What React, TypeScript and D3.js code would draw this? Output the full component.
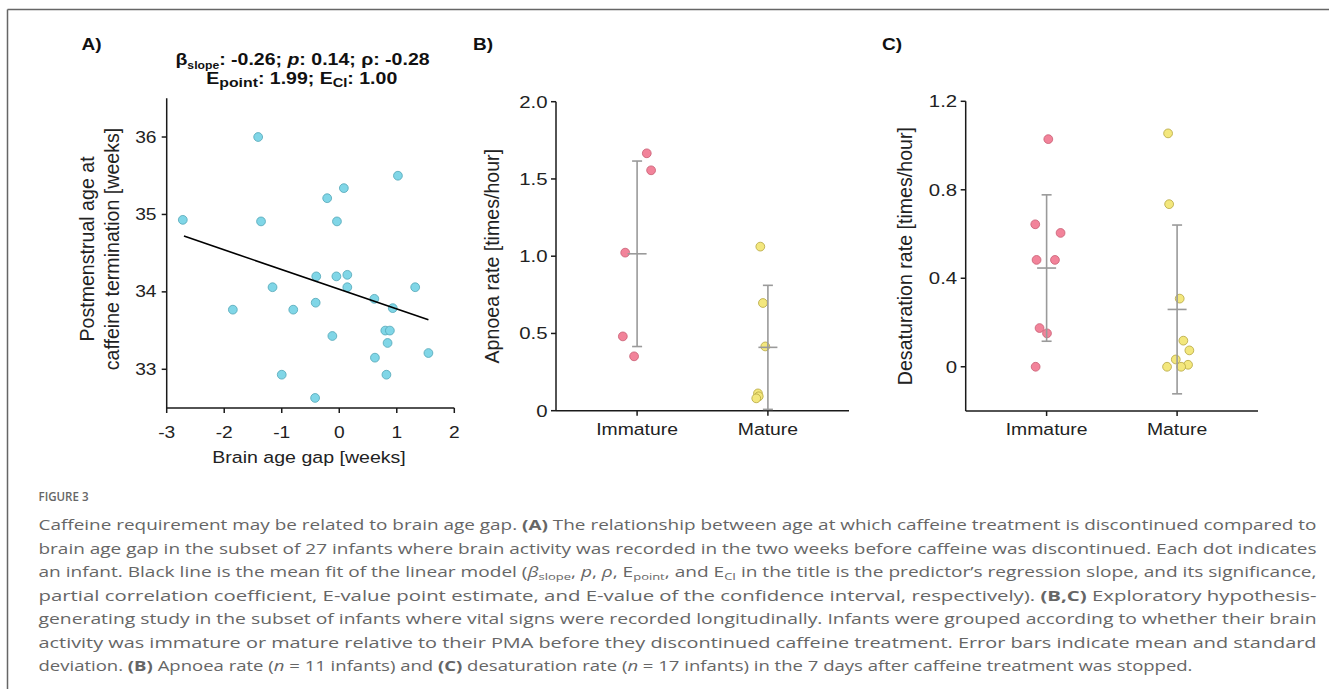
import React from 'react';
import * as d3 from 'd3';

// ---------- Panel A data ----------
const gapWeeks = [-1.41, 1.02, 0.08, -0.21, -2.72, -1.36, -0.04, -0.4, -0.05, 0.14, -1.16, 0.14, 1.32, 0.61, -0.41, -1.85, -0.8, 0.93, 0.8, 0.88, -0.12, 0.84, 1.55, 0.62, -1.0, 0.82, -0.42];
const pmaWeeks = [36.0, 35.5, 35.34, 35.21, 34.93, 34.91, 34.91, 34.2, 34.2, 34.22, 34.06, 34.06, 34.06, 33.91, 33.86, 33.77, 33.77, 33.79, 33.5, 33.5, 33.43, 33.34, 33.21, 33.15, 32.93, 32.93, 32.63];
const fitGap = [-2.7, 1.55];
const fitPma = [34.72, 33.64];
const xTicksA = [-3, -2, -1, 0, 1, 2];
const yTicksA = [33, 34, 35, 36];

// ---------- Panels B/C data ----------
const groups = ['Immature', 'Mature'];
const apnoeaImmature = [1.666, 1.556, 1.023, 0.481, 0.352];
const apnoeaImmatureJitter = [0.074, 0.107, -0.091, -0.109, -0.023];
const apnoeaMature = [1.062, 0.697, 0.416, 0.112, 0.093, 0.08];
const apnoeaMatureJitter = [-0.058, -0.038, -0.02, -0.076, -0.07, -0.089];
const yTicksB = [0, 0.5, 1, 1.5, 2];
const yTickLabelsB = ['0', '0.5', '1.0', '1.5', '2.0'];

const desatImmature = [1.029, 0.644, 0.605, 0.483, 0.483, 0.175, 0.151, 0.0];
const desatImmatureJitter = [0.013, -0.087, 0.107, -0.077, 0.064, -0.054, 0.003, -0.084];
const desatMature = [1.055, 0.735, 0.308, 0.118, 0.074, 0.033, 0.009, 0.0, 0.0];
const desatMatureJitter = [-0.069, -0.061, 0.02, 0.048, 0.094, -0.01, 0.084, -0.077, 0.031];
const yTicksC = [0, 0.4, 0.8, 1.2];
const yTickLabelsC = ['0', '0.4', '0.8', '1.2'];

// ---------- Caption ----------
type Seg = [string, string?];
const captionLines: Seg[][] = [
  [["Caffeine requirement may be related to brain age gap. "], ["(A)", "b"], [" The relationship between age at which caffeine treatment is discontinued compared to"]],
  [["brain age gap in the subset of 27 infants where brain activity was recorded in the two weeks before caffeine was discontinued. Each dot indicates"]],
  [["an infant. Black line is the mean fit of the linear model ("], ["β", "i"], ["slope", "s"], [", "], ["p", "i"], [", "], ["ρ", "i"], [", E"], ["point", "s"], [", and E"], ["CI", "s"], [" in the title is the predictor’s regression slope, and its significance,"]],
  [["partial correlation coefficient, E-value point estimate, and E-value of the confidence interval, respectively). "], ["(B,C)", "b"], [" Exploratory hypothesis-"]],
  [["generating study in the subset of infants where vital signs were recorded longitudinally. Infants were grouped according to whether their brain"]],
  [["activity was immature or mature relative to their PMA before they discontinued caffeine treatment. Error bars indicate mean and standard"]],
  [["deviation. "], ["(B)", "b"], [" Apnoea rate ("], ["n", "i"], [" = 11 infants) and "], ["(C)", "b"], [" desaturation rate ("], ["n", "i"], [" = 17 infants) in the 7 days after caffeine treatment was stopped."]],
];

const AX = '#1a1a1a';
const FONT = '"Liberation Sans", Arial, Helvetica, sans-serif';
const SX = 1.2;

function HText(props: { x: number; y: number; anchor?: string; size: number; sx?: number; bold?: boolean; fill?: string; children: React.ReactNode }) {
  const { x, y, anchor = 'start', size, sx = SX, bold, fill = '#222', children } = props;
  return (
    <text transform={`translate(${x},${y}) scale(${sx},1)`} textAnchor={anchor} fontSize={size}
      fontWeight={bold ? 700 : undefined} fill={fill}>{children}</text>
  );
}

function CaptionLine({ segs, y, width }: { segs: Seg[]; y: number; width: number }) {
  let shifted = false;
  const children = segs.map((s, i) => {
    const [t, st] = s;
    let dy = 0;
    if (st === 's' && !shifted) { dy = 3; shifted = true; }
    else if (st !== 's' && shifted) { dy = -3; shifted = false; }
    return (
      <tspan key={i} dy={dy || undefined}
        fontWeight={st === 'b' ? 700 : undefined}
        fontStyle={st === 'i' ? 'italic' : undefined}
        fontSize={st === 's' ? 9.5 : undefined}>{t}</tspan>
    );
  });
  return (
    <text x={38.5} y={y} textLength={width} lengthAdjust="spacingAndGlyphs" fontFamily='"Open Sans", sans-serif' fontSize={14} fill="#666">
      {children}
    </text>
  );
}

function PanelA() {
  const x = d3.scaleLinear().domain([-3, 2]).range([166.7, 454.3]);
  const y = d3.scaleLinear().domain([32.5, 36.5]).range([408, 98.3]);
  const line = d3.line<number>().x((d, i) => x(fitGap[i])).y((d) => y(d));
  return (
    <g fontFamily={FONT}>
      <HText x={81.5} y={50} size={17} sx={1.12} bold fill="#111">A)</HText>
      <text transform={`translate(302.5,65) scale(1.22,1)`} fontSize={16} fontWeight={700} textAnchor="middle" fill="#111">
        <tspan>β</tspan><tspan fontSize={10} dy={4}>slope</tspan><tspan dy={-4}>: -0.26; </tspan>
        <tspan fontStyle="italic">p</tspan><tspan>: 0.14; ρ: -0.28</tspan>
      </text>
      <text transform={`translate(301.7,84) scale(1.22,1)`} fontSize={16} fontWeight={700} textAnchor="middle" fill="#111">
        <tspan>E</tspan><tspan fontSize={13} dy={3}>point</tspan><tspan dy={-3}>: 1.99; E</tspan>
        <tspan fontSize={12} dy={3}>CI</tspan><tspan dy={-3}>: 1.00</tspan>
      </text>
      <line x1={x(-3)} x2={x(-3)} y1={y(36.5)} y2={y(32.5)} stroke={AX} strokeWidth={1.5} />
      <line x1={x(-3)} x2={x(2)} y1={y(32.5)} y2={y(32.5)} stroke={AX} strokeWidth={1.5} />
      {xTicksA.map((t) => (
        <g key={t}>
          <line x1={x(t)} x2={x(t)} y1={y(32.5)} y2={y(32.5) + 5} stroke={AX} strokeWidth={1.5} />
          <HText x={x(t)} y={437.5} size={16} anchor="middle">{String(t)}</HText>
        </g>
      ))}
      {yTicksA.map((t) => (
        <g key={t}>
          <line x1={x(-3) - 5} x2={x(-3)} y1={y(t)} y2={y(t)} stroke={AX} strokeWidth={1.5} />
          <HText x={156.5} y={y(t) + 5.5} size={16} anchor="end">{String(t)}</HText>
        </g>
      ))}
      <HText x={309} y={463} size={16.3} anchor="middle">Brain age gap [weeks]</HText>
      <text transform="translate(94.3,249) rotate(-90)" fontSize={19.6} textAnchor="middle" fill="#222">Postmenstrual age at</text>
      <text transform="translate(119.3,249) rotate(-90)" fontSize={19.6} textAnchor="middle" fill="#222">caffeine termination [weeks]</text>
      {gapWeeks.map((g, i) => (
        <circle key={i} cx={x(g)} cy={y(pmaWeeks[i])} r={4.4} fill="#80d6e7" stroke="#52a6b6" strokeWidth={0.8} />
      ))}
      <path d={line(fitPma) || ''} stroke="#000" strokeWidth={1.6} fill="none" />
    </g>
  );
}

function DotPanel(props: {
  label: string; labelX: number; x0: number; x1: number; yTop: number; yBot: number;
  domain: [number, number]; ticks: number[]; tickLabels: string[]; yLabel: string; yLabelX: number;
  imm: number[]; immJ: number[]; mat: number[]; matJ: number[];
}) {
  const { label, labelX, x0, x1, yTop, yBot, domain, ticks, tickLabels, yLabel, yLabelX, imm, immJ, mat, matJ } = props;
  const x = d3.scalePoint<string>().domain(groups).range([x0, x1]).padding(0.62);
  const y = d3.scaleLinear().domain(domain).range([yBot, yTop]);
  const step = x.step();
  const sets = [
    { g: groups[0], v: imm, j: immJ, fill: '#f2839a', stroke: '#c85d72' },
    { g: groups[1], v: mat, j: matJ, fill: '#f3e77d', stroke: '#b5a640' },
  ];
  const mid = (yTop + yBot) / 2;
  return (
    <g fontFamily={FONT}>
      <HText x={labelX} y={50} size={17} sx={1.12} bold fill="#111">{label}</HText>
      <line x1={x0} x2={x0} y1={yTop} y2={yBot} stroke={AX} strokeWidth={1.5} />
      <line x1={x0} x2={x1} y1={yBot} y2={yBot} stroke={AX} strokeWidth={1.5} />
      {ticks.map((t, i) => (
        <g key={t}>
          <line x1={x0 - 5} x2={x0} y1={y(t)} y2={y(t)} stroke={AX} strokeWidth={1.5} />
          <HText x={x0 - 8.5} y={y(t) + 6} size={17} anchor="end">{tickLabels[i]}</HText>
        </g>
      ))}
      {groups.map((g) => (
        <g key={g}>
          <line x1={x(g)!} x2={x(g)!} y1={yBot} y2={yBot + 5} stroke={AX} strokeWidth={1.5} />
          <HText x={x(g)!} y={435} size={17} sx={1.14} anchor="middle">{g}</HText>
        </g>
      ))}
      <text transform={`translate(${yLabelX},${mid}) rotate(-90)`} fontSize={19.6} textAnchor="middle" fill="#222">{yLabel}</text>
      {sets.map((s) => {
        const cx = x(s.g)!;
        const m = d3.mean(s.v)!;
        const sd = d3.deviation(s.v)!;
        return (
          <g key={s.g}>
            {s.v.map((v, i) => (
              <circle key={i} cx={cx + s.j[i] * step} cy={y(v)} r={4.4} fill={s.fill} stroke={s.stroke} strokeWidth={0.8} />
            ))}
            <g stroke="#9a9a9a" strokeWidth={1.6}>
              <line x1={cx} x2={cx} y1={y(m - sd)} y2={y(m + sd)} />
              <line x1={cx - 5} x2={cx + 5} y1={y(m + sd)} y2={y(m + sd)} />
              <line x1={cx - 5} x2={cx + 5} y1={y(m - sd)} y2={y(m - sd)} />
              <line x1={cx - 9.5} x2={cx + 9.5} y1={y(m)} y2={y(m)} />
            </g>
          </g>
        );
      })}
    </g>
  );
}

export default function App() {
  return (
    <svg width={1329} height={689} style={{ position: 'absolute', left: 0, top: 0, display: 'block', background: '#fff' }}>
      <rect x={0} y={0} width={1329} height={689} fill="#fff" />
      <line x1={7.5} x2={1329} y1={9.5} y2={9.5} stroke="#666" strokeWidth={1.5} />
      <line x1={7.5} x2={7.5} y1={9.5} y2={689} stroke="#666" strokeWidth={1.5} />
      <PanelA />
      <DotPanel label="B)" labelX={473} x0={556} x1={849} yTop={101.7} yBot={410.7} domain={[0, 2]}
        ticks={yTicksB} tickLabels={yTickLabelsB} yLabel="Apnoea rate [times/hour]" yLabelX={499}
        imm={apnoeaImmature} immJ={apnoeaImmatureJitter} mat={apnoeaMature} matJ={apnoeaMatureJitter} />
      <DotPanel label="C)" labelX={882} x0={965.7} x1={1258} yTop={101.3} yBot={411} domain={[-0.2, 1.2]}
        ticks={yTicksC} tickLabels={yTickLabelsC} yLabel="Desaturation rate [times/hour]" yLabelX={911.5}
        imm={desatImmature} immJ={desatImmatureJitter} mat={desatMature} matJ={desatMatureJitter} />
      <text x={38.5} y={501} fontFamily='"Open Sans", sans-serif' fontSize={13} fontWeight={600} fill="#666" textLength={50} lengthAdjust="spacingAndGlyphs">FIGURE 3</text>
      {captionLines.map((segs, i) => (
        <CaptionLine key={i} segs={segs} y={530 + i * 23.5} width={i === captionLines.length - 1 ? 1154 : 1278} />
      ))}
    </svg>
  );
}
